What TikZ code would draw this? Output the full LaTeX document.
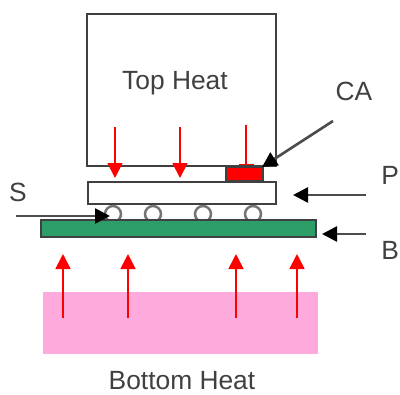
\documentclass[tikz,border=0pt]{standalone}
\usepackage{fontspec}
\setmainfont{Liberation Sans}
\usetikzlibrary{arrows.meta}
\definecolor{boardgreen}{RGB}{46,158,104}
\definecolor{heatpink}{RGB}{255,170,220}
\tikzset{>=Triangle}
\tikzset{
  part/.style={draw=black!75,line width=1.4pt,inner sep=0pt},
  heat/.style={->,draw=red,line width=1pt,>={Triangle[length=15*0.2mm,width=15*0.2mm]}},
  pointer/.style={->,draw=black!70,line width=1.5pt,>={Triangle[length=15*0.2mm,width=15*0.2mm,fill=black,color=black]}},
  label/.style={font=\fontsize{15}{17}\selectfont,text=black!75,inner sep=0pt}
}

\begin{document}
\begin{tikzpicture}[x=0.2mm,y=-0.2mm]
\useasboundingbox (0,0) rectangle (400,394);
\draw[part] (87,14) rectangle (276,166);
\fill[heatpink] (43,292) rectangle (318,354);
\draw[part,fill=red] (226,167) rectangle (263,181);
\draw[part,fill=white] (88,182) rectangle (276,204);
\foreach \x/\name in {113/a,153/b,203/c,253/d}
  \node[part,draw=black!55,fill=white,circle,minimum size=3.2mm] (ball\name) at (\x,214) {};
\draw[part,fill=boardgreen] (41,220) rectangle (316,237);
% heat from above
\foreach \x in {115,180}
  \draw[heat] (\x,127) -- (\x,178);
\draw[heat,line width=0.7pt,>={Bar[width=15*0.2mm]}] (246,125) -- (246,165);
% heat from below
\foreach \x in {63,128,236,297}
  \draw[heat] (\x,318) -- (\x,254);
\node[label] (top) at (175,83) {Top Heat};
\node[label] (bottom) at (182,381) {Bottom Heat};
\node[label] (S) at (18,192) {S};
\node[label] (CA) at (354,91) {CA};
\node[label,anchor=west] (P) at (381,175) {P};
\node[label,anchor=west] (B) at (381,250) {B};
\coordinate (Sfrom) at (16,216);
\coordinate (CAfrom) at (333,121);
\coordinate (Pfrom) at (366,195);
\coordinate (Bfrom) at (366,234);
\draw[pointer] (Sfrom) -- (110,216);
\draw[pointer] (CAfrom) -- (262,167);
\draw[pointer] (Pfrom) -- (293,195);
\draw[pointer] (Bfrom) -- (322,234);
\end{tikzpicture}
\end{document}
